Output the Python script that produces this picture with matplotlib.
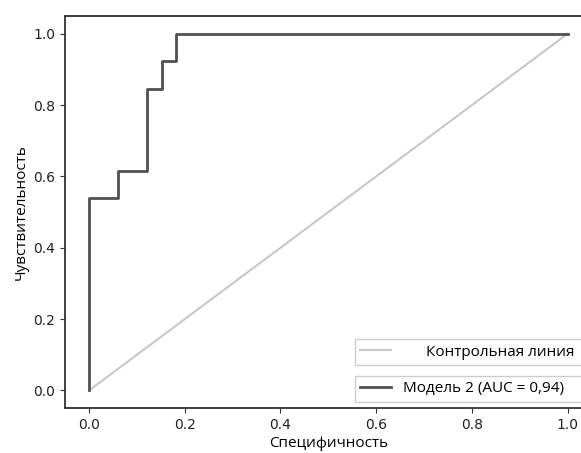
import matplotlib
matplotlib.use("Agg")
import matplotlib.pyplot as plt
import numpy as np

plt.rcParams['font.family'] = ['Open Sans', 'DejaVu Sans']
plt.rcParams['font.size'] = 11

# ROC curve of model 2 (33 negatives, 13 positives)
fpr = [0.0, 0.0, 2/33, 2/33, 4/33, 4/33, 5/33, 5/33, 6/33, 6/33, 1.0]
tpr = [0.0, 7/13, 7/13, 8/13, 8/13, 11/13, 11/13, 12/13, 12/13, 1.0, 1.0]
diag = [0.0, 1.0]
auc_label = "Модель 2 (AUC = 0,94)"
ref_label = "Контрольная линия"

fig = plt.figure(figsize=(5.81, 4.53), dpi=100)
ax = fig.add_axes([0.112, 0.0987, 0.906, 0.866])

ref_line, = ax.plot(diag, diag, color='#c8c8c8', lw=1.5)
roc_line, = ax.plot(fpr, tpr, color='#505050', lw=2)

ax.set_xlim(-0.05, 1.05)
ax.set_ylim(-0.05, 1.05)
ax.set_xticks(np.arange(0, 1.01, 0.2))
ax.set_yticks(np.arange(0, 1.01, 0.2))
ax.set_xlabel("Специфичность", labelpad=3)
ax.set_ylabel("Чувствительность", labelpad=3)
for sp in ax.spines.values():
    sp.set_color('#333333')
    sp.set_linewidth(1.3)
ax.tick_params(colors='#333333', labelcolor='#222222')
for lb in ax.get_xticklabels() + ax.get_yticklabels():
    lb.set_family('DejaVu Sans')
    lb.set_fontsize(10)

leg1 = ax.legend([ref_line], [ref_label], loc='lower left',
                 bbox_to_anchor=(0.551, 0.110, 0.434, 0.07), mode='expand',
                 borderaxespad=0, fancybox=False, edgecolor='#cccccc',
                 framealpha=1, handletextpad=2.3, borderpad=0.35)
ax.add_artist(leg1)
leg2 = ax.legend([roc_line], [auc_label], loc='lower left',
                 bbox_to_anchor=(0.551, 0.017, 0.434, 0.07), mode='expand',
                 borderaxespad=0, fancybox=False, edgecolor='#cccccc',
                 framealpha=1, borderpad=0.35)

fig.savefig("out.png", dpi=100)
